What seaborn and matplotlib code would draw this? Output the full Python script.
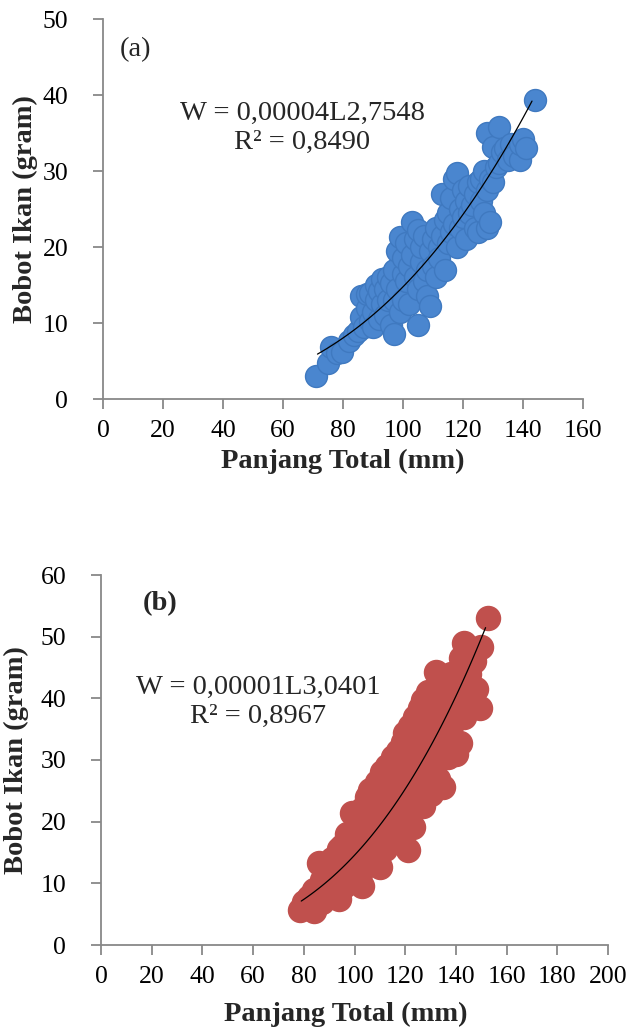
import numpy as np
import pandas as pd
import matplotlib
matplotlib.use("Agg")
import matplotlib.pyplot as plt
import seaborn as sns

# ---- data (a) ----
len_a = [71, 75, 76, 78, 79.5, 82, 83.5, 85, 86, 86, 87, 88, 88, 89, 89, 90, 90, 91, 91, 92, 92,
         93, 93, 94, 94, 95, 95, 96, 96, 97, 97, 97, 98, 98, 99, 99, 100, 100, 100, 101, 101,
         102, 102, 103, 103, 104, 104, 105, 105, 105, 106, 106, 107, 107, 108, 108, 109, 109,
         110, 110, 111, 111, 112, 112, 113, 113, 114, 114, 115, 115, 116, 116, 117, 117, 118,
         118, 119, 119, 120, 120, 121, 121, 122, 122, 123, 124, 124, 125, 125, 126, 126, 127,
         127, 128, 128, 128, 129, 129, 130, 130, 131, 132, 132, 133, 134, 135, 136, 137, 139,
         139, 140, 141, 144]
wt_a = [3.0, 4.8, 6.9, 6.0, 6.2, 7.6, 8.4, 9.0, 10.8, 13.5, 9.5, 12.0, 13.8, 10.2, 14.0, 11.5,
        9.5, 13.0, 15.0, 10.5, 14.2, 15.8, 12.5, 11.0, 14.5, 13.0, 16.0, 9.8, 15.2, 8.6, 17.0,
        13.0, 19.5, 14.5, 21.3, 11.5, 16.5, 18.5, 13.0, 20.5, 15.5, 17.5, 12.5, 23.3, 19.0,
        16.0, 21.0, 9.8, 14.5, 22.2, 18.0, 20.0, 15.5, 21.5, 17.0, 13.5, 12.3, 19.5, 21.0,
        17.5, 16.0, 22.5, 20.0, 18.5, 27.0, 21.5, 17.0, 23.5, 20.5, 24.5, 22.0, 26.5, 29.0,
        23.0, 29.8, 20.0, 25.0, 22.5, 27.5, 24.0, 21.0, 26.0, 28.0, 24.5, 25.5, 27.0, 22.5,
        22.0, 28.5, 26.0, 29.0, 30.0, 24.5, 22.5, 27.5, 35.0, 23.3, 29.0, 33.2, 28.5, 30.5,
        35.8, 31.0, 32.5, 33.0, 31.5, 33.5, 32.0, 31.4, 33.5, 34.2, 33.0, 39.3]

# ---- data (b) ----
len_b = [78.5, 80, 82, 82, 84, 84, 86, 86, 87, 87, 88, 88, 89, 89, 90, 90, 91, 91, 92, 92, 93, 93,
         94, 94, 94, 95, 95, 96, 96, 97, 97, 98, 98, 99, 99, 99, 100, 100, 101, 101, 102, 102,
         103, 103, 103, 104, 104, 105, 105, 106, 106, 106, 107, 107, 108, 108, 108, 109, 109,
         110, 110, 110, 111, 111, 112, 112, 112, 113, 113, 114, 114, 114, 115, 115, 116, 116,
         116, 117, 117, 118, 118, 118, 119, 119, 120, 120, 120, 121, 121, 121, 122, 122, 123,
         123, 123, 124, 124, 125, 125, 125, 126, 126, 127, 127, 127, 128, 128, 129, 129, 130,
         130, 131, 131, 132, 132, 133, 133, 134, 134, 135, 135, 135, 137, 137, 138, 138, 140,
         140, 141.6, 142, 142, 143, 143, 145, 145, 147, 148, 149.5, 150, 152.7]
wt_b = [5.7, 7.0, 7.8, 6.5, 5.5, 9.0, 13.3, 8.0, 10.5, 7.0, 12.0, 9.5, 13.0, 8.5, 10.5, 12.5,
        9.0, 14.0, 11.0, 8.0, 13.5, 10.0, 7.5, 12.0, 15.5, 11.0, 16.0, 13.0, 9.5, 18.0, 12.0,
        15.0, 10.5, 21.4, 13.5, 17.0, 12.0, 16.0, 19.0, 14.0, 11.5, 17.5, 22.0, 15.0, 9.5,
        19.5, 13.5, 17.0, 24.0, 25.1, 14.0, 19.5, 21.5, 16.5, 23.0, 13.5, 18.5, 26.5, 20.5,
        12.7, 17.0, 22.5, 28.0, 19.5, 24.5, 15.5, 21.0, 29.0, 18.0, 23.5, 26.5, 16.5, 30.5,
        21.0, 25.0, 19.0, 28.0, 31.5, 22.5, 26.0, 18.5, 29.5, 33.0, 23.5, 27.0, 21.0, 34.3,
        15.4, 30.0, 25.0, 35.5, 22.0, 19.1, 28.5, 32.0, 37.0, 26.0, 24.0, 30.5, 34.5, 38.5,
        28.0, 39.7, 22.5, 32.5, 26.0, 35.5, 30.0, 41.0, 24.5, 34.0, 37.5, 28.5, 44.3, 31.5,
        27.0, 39.0, 43.0, 35.0, 25.6, 33.0, 41.5, 38.0, 30.5, 44.0, 35.5, 40.0, 31.0, 32.7,
        46.5, 42.5, 48.9, 37.0, 44.0, 40.0, 46.0, 41.5, 38.4, 48.3, 53.0]

xticks_a = list(range(0, 161, 20))
yticks_a = list(range(0, 51, 10))
xticks_b = list(range(0, 201, 20))
yticks_b = list(range(0, 61, 10))

eq_a = ["W = 0,00004L2,7548", "R² = 0,8490"]
eq_b = ["W = 0,00001L3,0401", "R² = 0,8967"]

sns.set_theme(style="ticks")
plt.rcParams["font.family"] = ["Liberation Serif", "DejaVu Serif"]

fig = plt.figure(figsize=(6.32, 10.32), dpi=100)
ax1 = fig.add_axes([103/632, 1-399/1032, 480/632, 380/1032])
ax2 = fig.add_axes([101/632, 1-945/1032, 507/632, 370/1032])

TICK_FS = 18.5
LAB_FS = 20.5
TXT_FS = 20.5

def style(ax, xt, yt, xlab_xy, ylab_xy):
    for s in ["top", "right"]:
        ax.spines[s].set_visible(False)
    for s in ["left", "bottom"]:
        ax.spines[s].set_color("#888888")
        ax.spines[s].set_linewidth(1.3)
    ax.set_xlim(xt[0], xt[-1])
    ax.set_ylim(yt[0], yt[-1])
    ax.set_xticks(xt)
    ax.set_yticks(yt)
    ax.tick_params(axis="both", direction="out", length=7, width=1.3, color="#888888",
                   labelsize=TICK_FS, labelcolor="black")
    ax.tick_params(axis="x", pad=8)
    ax.tick_params(axis="y", pad=18)
    ax.set_xlabel("Panjang Total (mm)", fontsize=LAB_FS, fontweight="bold")
    ax.set_ylabel("Bobot Ikan (gram)", fontsize=LAB_FS, fontweight="bold")
    ax.xaxis.set_label_coords(*xlab_xy)
    ax.yaxis.set_label_coords(*ylab_xy)
    ax.grid(False)

def trend(ax, L, W):
    L = np.asarray(L, float); W = np.asarray(W, float)
    b, a = np.polyfit(np.log(L), np.log(W), 1)
    xs = np.linspace(L.min() + 0.5, L.max() - 1, 100)
    ax.plot(xs, np.exp(a) * xs ** b, color="black", lw=0.9, zorder=5)

df_a = pd.DataFrame({"L": len_a, "W": wt_a})
df_b = pd.DataFrame({"L": len_b, "W": wt_b})

sns.scatterplot(data=df_a, x="L", y="W", ax=ax1, s=250, color="#4A86CF",
                edgecolor="#3F79C0", linewidth=1.0, zorder=3, clip_on=False)
trend(ax1, len_a, wt_a)
style(ax1, xticks_a, yticks_a, (0.5, -0.132), (-0.135, 0.5))
ax1.text(5.7, 46.0, "(a)", fontsize=TXT_FS, ha="left", va="center")
ax1.text(66.5, 37.6, eq_a[0], fontsize=TXT_FS, ha="center", va="center")
ax1.text(66.5, 33.8, eq_a[1], fontsize=TXT_FS, ha="center", va="center")

sns.scatterplot(data=df_b, x="L", y="W", ax=ax2, s=300, color="#C0504D",
                edgecolor="#C0504D", linewidth=1.0, zorder=3, clip_on=False)
trend(ax2, len_b, wt_b)
style(ax2, xticks_b, yticks_b, ((346 - 101) / 507, -0.154), (-0.142, 0.5))
ax2.text(16.6, 55.4, "(b)", fontsize=TXT_FS, fontweight="bold", ha="left", va="center")
ax2.text(62, 41.8, eq_b[0], fontsize=TXT_FS, ha="center", va="center")
ax2.text(62, 37.0, eq_b[1], fontsize=TXT_FS, ha="center", va="center")

fig.savefig("out.png", dpi=100)
